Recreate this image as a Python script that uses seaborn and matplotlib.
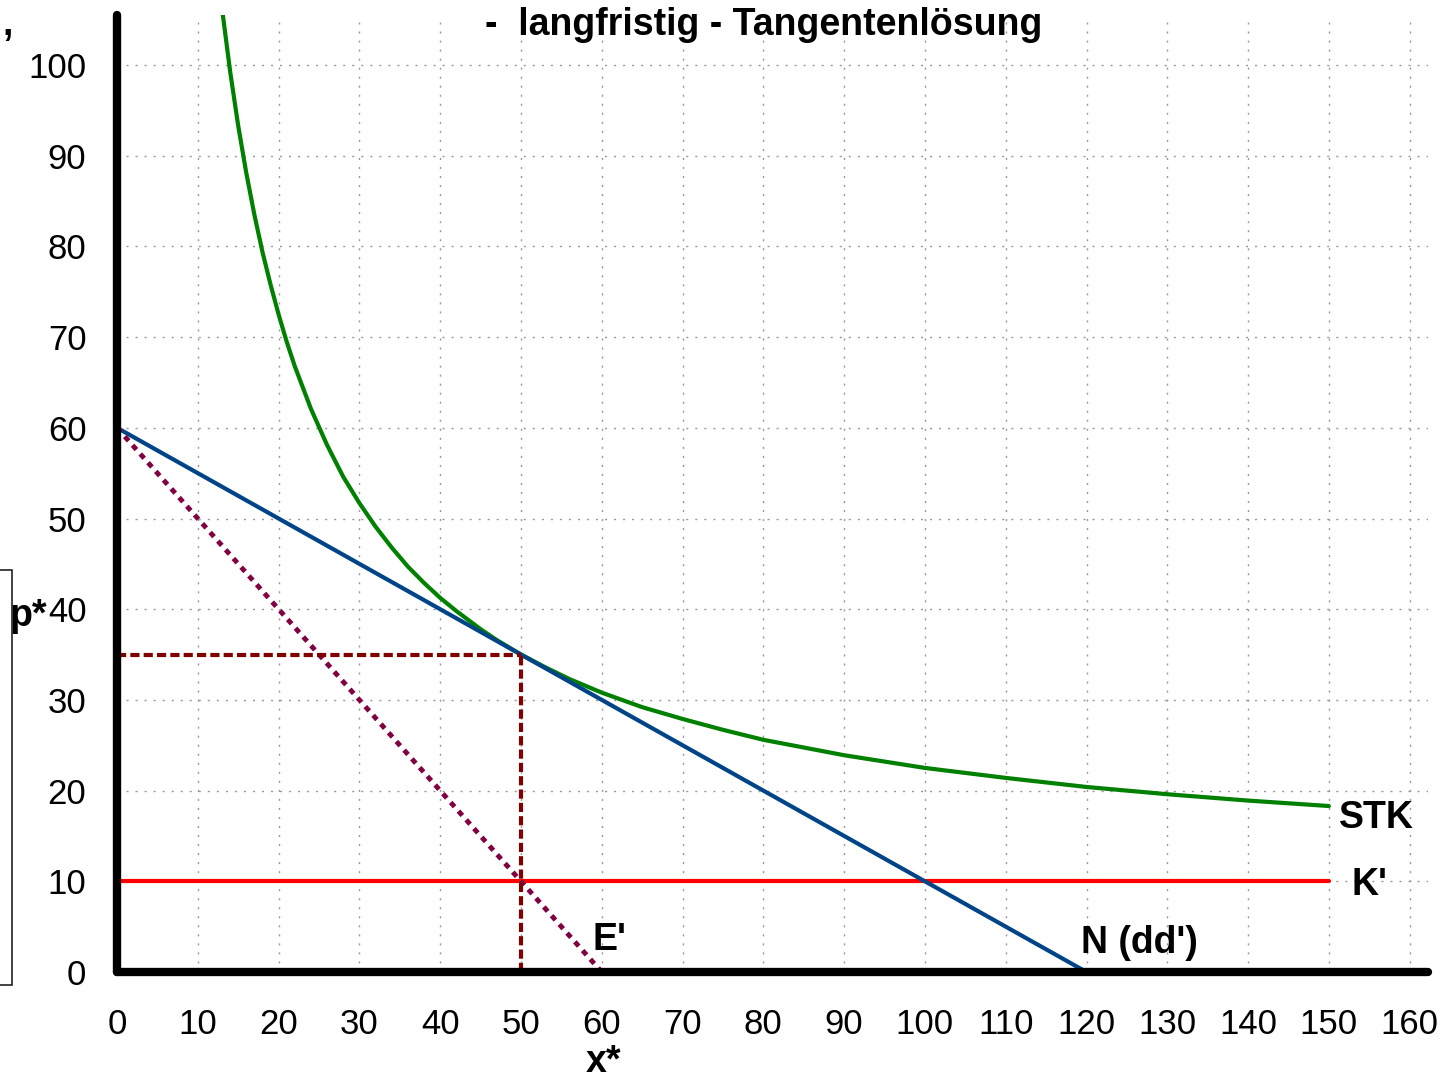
import numpy as np
import pandas as pd
import matplotlib
matplotlib.use("Agg")
import matplotlib.pyplot as plt
from matplotlib.patches import Rectangle
import seaborn as sns

# === data ===
stk_x = [13, 14, 15, 16, 17, 18, 19, 20, 21, 22, 24, 26, 28, 30, 32, 34, 36, 38,
         40, 42, 45, 47, 50, 53, 56, 60, 65, 70, 75, 80, 90, 100, 110, 120, 130,
         140, 150]
stk_y = [106.2, 99.3, 93.3, 88.1, 83.5, 79.4, 75.8, 72.5, 69.5, 66.8, 62.1, 58.1,
         54.6, 51.7, 49.1, 46.8, 44.7, 42.9, 41.25, 39.8, 37.8, 36.6, 35.0, 33.6,
         32.3, 30.8, 29.2, 27.9, 26.7, 25.6, 23.9, 22.5, 21.4, 20.4, 19.6, 18.9,
         18.3]
nachfrage_x = [0, 120]
nachfrage_y = [60, 0]
erloes_x = [0, 60]
erloes_y = [60, 0]
kosten_x = [0, 150]
kosten_y = [10, 10]
opt_x = 50
opt_p = 35
x_ticks = list(range(0, 161, 10))
y_ticks = list(range(0, 101, 10))

sns.set_style("white")
plt.rcParams['font.family'] = ['Liberation Sans', 'DejaVu Sans']

fig = plt.figure(figsize=(14.5, 10.8), dpi=100)
ax = fig.add_axes([0.0807, 0.1, 0.9043, 0.886])

# grid
ax.set_xticks(x_ticks)
ax.set_yticks(y_ticks)
ax.grid(True, color="#999999", linestyle=(0, (1.5, 5)), linewidth=1.0)
ax.set_axisbelow(True)

# curves
line = dict(ax=ax, estimator=None, sort=False)
sns.lineplot(x=stk_x, y=stk_y, color="#008000", linewidth=3, **line)
sns.lineplot(x=kosten_x, y=kosten_y, color="#ff0000", linewidth=3, **line)
sns.lineplot(x=nachfrage_x, y=nachfrage_y, color="#004488", linewidth=3, **line)
sns.lineplot(x=erloes_x, y=erloes_y, color="#800040", linewidth=3.5,
             linestyle=(0, (1.2, 1.2)), **line)
sns.lineplot(x=[opt_x, opt_x], y=[0, opt_p], color="#800000", linewidth=3,
             linestyle=(0, (2.2, 1)), **line)
sns.lineplot(x=[0, opt_x], y=[opt_p, opt_p], color="#800000", linewidth=3,
             linestyle=(0, (2.2, 1)), **line)

ax.set_xlim(0, 162.3)
ax.set_ylim(0, 105.5)

for s in ["top", "right"]:
    ax.spines[s].set_visible(False)
for s in ["left", "bottom"]:
    ax.spines[s].set_linewidth(6)
    ax.spines[s].set_color("black")
    ax.spines[s].set_capstyle("round")

ax.tick_params(axis="both", direction="out", length=10, width=1.3, colors="#333333",
               labelcolor="black", labelsize=25)
ax.tick_params(axis="x", pad=16)
ax.tick_params(axis="y", pad=12)

# labels
lab = dict(fontsize=27, fontweight="bold", color="black")
ax.text(151.3, 17.0, "STK", va="center", ha="left", **lab)
ax.text(152.8, 9.6, "K'", va="center", ha="left", **lab)
ax.text(58.9, 3.5, "E'", va="center", ha="left", **lab)
ax.text(119.3, 3.2, "N (dd')", va="center", ha="left", **lab)
ax.text(-13.3, 39.3, "p*", va="center", ha="left", clip_on=False, **lab)
ax.text(60.2, -9.9, "x*", va="center", ha="center", clip_on=False, **lab)

fig.text(0.527, 0.977, "-  langfristig - Tangentenlösung", ha="center", va="center",
         fontsize=27, fontweight="bold", color="black")
fig.text(0.002, 0.977, ",", ha="left", va="center", fontsize=27, fontweight="bold",
         color="black")

fig.patches.append(Rectangle((-0.01, 1 - 985 / 1080), 0.0185, (985 - 570) / 1080,
                             transform=fig.transFigure, fill=False,
                             edgecolor="#222222", linewidth=1.2))

fig.savefig("out.png", dpi=100)
